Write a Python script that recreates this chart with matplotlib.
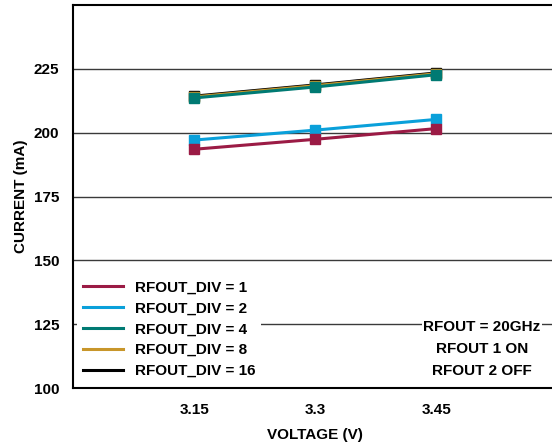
import matplotlib
matplotlib.use("Agg")
import matplotlib.pyplot as plt

plt.rcParams['font.family'] = ['Liberation Sans', 'DejaVu Sans']
plt.rcParams['font.weight'] = 'bold'

voltage = [3.15, 3.3, 3.45]
div_labels = ["RFOUT_DIV = 1", "RFOUT_DIV = 2", "RFOUT_DIV = 4",
              "RFOUT_DIV = 8", "RFOUT_DIV = 16"]
current = [
    [193.5, 197.4, 201.6],
    [197.1, 201.0, 205.2],
    [213.6, 217.9, 222.7],
    [214.0, 218.4, 223.1],
    [214.3, 218.7, 223.4],
]
colors = ["#9b1b45", "#0aa0da", "#007a73", "#c8962a", "#000000"]
y_ticks = [100, 125, 150, 175, 200, 225]
x_ticks = [3.15, 3.3, 3.45]
x_ticklabels = ["3.15", "3.3", "3.45"]
fs = 11

fig = plt.figure(figsize=(5.52, 4.48), dpi=100)
ax = fig.add_axes([73 / 552, 60 / 448, 1 - 73 / 552 + 0.01, 383 / 448])

# drawing order: black, gold under teal; red on top of blue
order = [4, 3, 2, 1, 0]
lines = [None] * len(current)
for z, i in enumerate(order):
    ln, = ax.plot(voltage, current[i], color=colors[i], lw=2.2, marker='s',
                  markersize=6.5, label=div_labels[i], zorder=3 + z)
    lines[i] = ln

ax.set_xlim(3.0, 3.6)
ax.set_ylim(100, 250)
ax.set_yticks(y_ticks)
ax.set_xticks(x_ticks)
ax.set_xticklabels(x_ticklabels)
ax.tick_params(length=0, labelsize=fs)
ax.tick_params(axis='x', pad=11)
ax.tick_params(axis='y', pad=10)
for lab in ax.get_xticklabels() + ax.get_yticklabels():
    lab.set_fontweight('bold')
ax.yaxis.grid(True, color='#3a3a3a', lw=1.0)
ax.set_axisbelow(True)
ax.spines['right'].set_visible(False)
for s in ['left', 'bottom', 'top']:
    ax.spines[s].set_linewidth(1.5)

ax.set_xlabel("VOLTAGE (V)", fontsize=fs, fontweight='bold', labelpad=8)
ax.set_ylabel("CURRENT (mA)", fontsize=fs, fontweight='bold', labelpad=4)

leg = ax.legend(handles=lines, loc='lower left', bbox_to_anchor=(0.0, 0.0),
                frameon=True, fontsize=fs, handlelength=2.6, handletextpad=0.8,
                labelspacing=0.45, borderaxespad=0.25)
leg.get_frame().set_edgecolor('none')
leg.get_frame().set_facecolor('white')
leg.get_frame().set_alpha(1)
for h in leg.get_lines():
    h.set_marker('')
    h.set_linewidth(2.2)
for t in leg.get_texts():
    t.set_fontweight('bold')

ax.text(0.844, 0.102, "RFOUT = 20GHz\nRFOUT 1 ON\nRFOUT 2 OFF", transform=ax.transAxes,
        ha='center', va='center', fontsize=fs, fontweight='bold', linespacing=1.75,
        bbox=dict(facecolor='white', edgecolor='none', pad=1), zorder=20)

fig.savefig("out.png", dpi=100)
